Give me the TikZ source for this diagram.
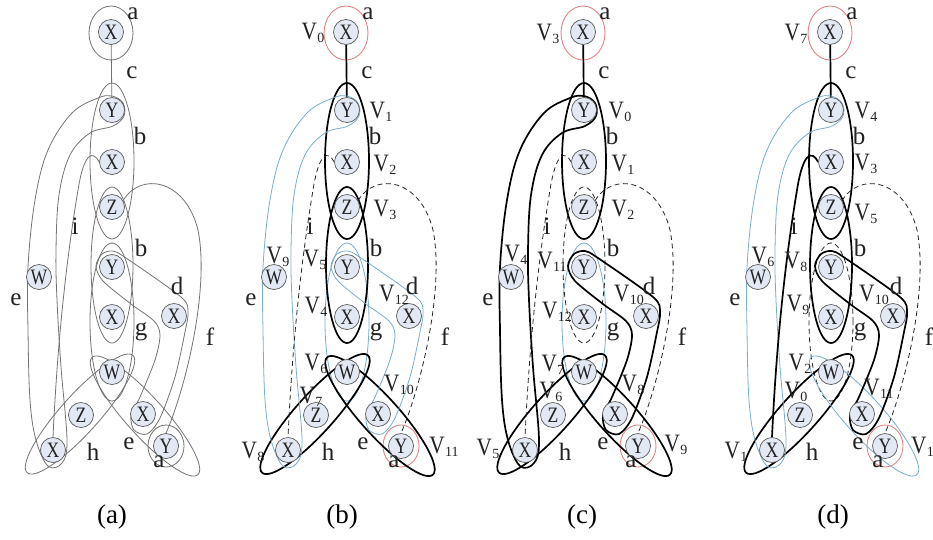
\documentclass[tikz,border=0pt]{standalone}
\usepackage{graphicx}
\usepackage{fontspec}
\setmainfont{Liberation Serif}
\usetikzlibrary{shapes.geometric}
\pgfdeclarelayer{bg}
\pgfsetlayers{bg,main}
\definecolor{gline}{HTML}{737373}
\definecolor{bline}{HTML}{78ADCB}
\definecolor{rline}{HTML}{E08585}
\definecolor{nfill}{HTML}{E3E9F4}
\definecolor{txt}{HTML}{222222}
\newcommand\nl[1]{\scalebox{0.8}[1]{#1}}
\newcommand\vl[1]{\scalebox{0.85}[1]{V}\kern0.6pt\raisebox{-2.5pt}{\fontsize{14}{14}\selectfont #1}}
\tikzset{
  vtx/.style={circle, draw=black!65, line width=0.7pt, fill=nfill, minimum size=25pt, inner sep=0pt, font=\fontsize{22}{22}\selectfont, text=txt},
  gr/.style={draw=gline, line width=0.8pt},
  tk/.style={draw=black, line width=1.7pt},
  bl/.style={draw=bline, line width=0.8pt},
  rd/.style={draw=rline, line width=0.9pt},
  dsh/.style={draw=black!85, line width=0.8pt, dash pattern=on 5pt off 3.5pt},
  lab/.style={font=\fontsize{25}{25}\selectfont, text=txt, inner sep=0pt},
  captxt/.style={font=\fontsize{27}{27}\selectfont, text=black, inner sep=0pt},
  cast/.style={gr}, yrst/.style={gr}, cst/.style={gr}, E1st/.style={gr}, E2st/.style={gr},
  S5st/.style={gr}, hst/.style={gr}, eest/.style={gr}, loopst/.style={gr}, boomst/.style={gr},
  ist/.style={gr}, fst/.style={gr}
}
\newcommand\hgraph[2]{%
 \node[vtx] (#1xt) at (111,32) {\nl{X}};
 \node[vtx] (#1y1) at (112,110) {\nl{Y}};
 \node[vtx] (#1x2) at (112,162) {\nl{X}};
 \node[vtx] (#1z1) at (112,207) {\nl{Z}};
 \node[vtx] (#1y2) at (112,267) {\nl{Y}};
 \node[vtx] (#1x3) at (112,317) {\nl{X}};
 \node[vtx] (#1w1) at (112,372) {\nl{W}};
 \node[vtx] (#1wl) at (39,277) {\nl{W}};
 \node[vtx] (#1xd) at (174,316) {\nl{X}};
 \node[vtx] (#1zb) at (81,415) {\nl{Z}};
 \node[vtx] (#1xb) at (53,450) {\nl{X}};
 \node[vtx] (#1xr) at (143,414) {\nl{X}};
 \node[vtx] (#1yr) at (166,446) {\nl{Y}};
 \begin{pgfonlayer}{bg}
  \draw[cast] (111,33) ellipse [x radius=22pt, y radius=27pt];
  \draw[yrst] (166,446) ellipse [x radius=18pt, y radius=21pt];
  \draw[cst] (#1xt) -- (#1y1);
  \draw[S5st] (112,322) ellipse [x radius=22pt, y radius=79pt];
  \draw[E1st] (112,161) ellipse [x radius=22pt, y radius=78pt];
  \draw[E2st] (112,265) ellipse [x radius=21pt, y radius=78pt];
  \draw[hst, shift={(80,414)}, rotate=48] (0,0) ellipse [x radius=79pt, y radius=19pt];
  \draw[eest, shift={(145,416)}, rotate=-48] (0,0) ellipse [x radius=79pt, y radius=19pt];
  \draw[loopst] plot[smooth cycle, tension=0.6] coordinates {(123,103) (112,96) (98,98) (72,113) (48,150) (35,200) (28,267) (28,330) (30,400) (36,440) (48,466) (62,463) (67,440) (61,367) (57,300) (56,250) (59,195) (70,155) (90,133) (113,126) (124,116)};
  \draw[boomst] plot[smooth cycle, tension=0.5] coordinates {(96,266) (102,254) (113,251) (126,258) (181,297) (188,312) (185,332) (175,377) (160,418) (147,434) (134,430) (131,415) (140,397) (155,360) (160,335) (154,321) (131,304) (103,281)};
  \draw[ist] (#1x2.west) .. controls (93,150) and (84,152) .. (78,190) .. controls (68,250) and (58,330) .. (#1xb.north);
  \draw[fst] (#1z1.30) .. controls (140,172) and (185,178) .. (198,230) .. controls (210,290) and (185,390) .. (#1yr.north);
 \end{pgfonlayer}
 \node[lab] (#1la) at (133,14) {a};
 \node[lab] (#1lc) at (132,73) {c};
 \node[lab] (#1lb) at (140,136) {b};
 \node[lab] (#1li) at (75,226) {i};
 \node[lab] (#1lbb) at (141,248) {b};
 \node[lab] (#1le) at (16,300) {e};
 \node[lab] (#1ld) at (177,286) {d};
 \node[lab] (#1lg) at (141,332) {g};
 \node[lab] (#1lf) at (210,337) {f};
 \node[lab] (#1lh) at (93,452) {h};
 \node[lab] (#1lee) at (#2,444) {e};
 \node[lab] (#1laa) at (159,462) {a};
}
\begin{document}
\begin{tikzpicture}[x=1pt,y=-1pt]
\useasboundingbox (0,0) rectangle (933,539);
% panel a
\begin{scope}
 \hgraph{a}{129}
\end{scope}
% panel b
\begin{scope}[xshift=235pt, cast/.style={rd}, yrst/.style={rd}, cst/.style={tk}, E1st/.style={tk}, E2st/.style={tk},
  S5st/.style={bl}, hst/.style={tk}, eest/.style={tk}, loopst/.style={bl}, boomst/.style={bl}, ist/.style={dsh}, fst/.style={dsh}]
 \hgraph{b}{128}
 \node[lab] (bv0) at (78,33) {\vl{0}};
 \node[lab] (bv1) at (146,112) {\vl{1}};
 \node[lab] (bv2) at (150,165) {\vl{2}};
 \node[lab] (bv3) at (150,210) {\vl{3}};
 \node[lab] (bv9) at (43,257) {\vl{9}};
 \node[lab] (bv5) at (80,260) {\vl{5}};
 \node[lab] (bv4) at (81,307) {\vl{4}};
 \node[lab] (bv12) at (159,295) {\vl{12}};
 \node[lab] (bv6) at (81,364) {\vl{6}};
 \node[lab] (bv7) at (76,397) {\vl{7}};
 \node[lab] (bv10) at (164,385) {\vl{10}};
 \node[lab] (bv8) at (18,452) {\vl{8}};
 \node[lab] (bv11) at (209,447) {\vl{11}};
\end{scope}
% panel c
\begin{scope}[xshift=472pt, cast/.style={rd}, yrst/.style={rd}, cst/.style={tk}, E1st/.style={tk}, E2st/.style={dsh},
  S5st/.style={bl}, hst/.style={tk}, eest/.style={tk}, loopst/.style={tk}, boomst/.style={tk}, ist/.style={dsh}, fst/.style={dsh}]
 \hgraph{c}{131}
 \node[lab] (cv3) at (76,34) {\vl{3}};
 \node[lab] (cv0) at (148,112) {\vl{0}};
 \node[lab] (cv1) at (151,165) {\vl{1}};
 \node[lab] (cv2) at (151,210) {\vl{2}};
 \node[lab] (cv4) at (44,255) {\vl{4}};
 \node[lab] (cv11) at (80,262) {\vl{11}};
 \node[lab] (cv12) at (85,312) {\vl{12}};
 \node[lab] (cv10) at (157,295) {\vl{10}};
 \node[lab] (cv7) at (81,365) {\vl{7}};
 \node[lab] (cv6) at (79,392) {\vl{6}};
 \node[lab] (cv8) at (161,385) {\vl{8}};
 \node[lab] (cv5) at (16,449) {\vl{5}};
 \node[lab] (cv9) at (204,445) {\vl{9}};
\end{scope}
% panel d
\begin{scope}[xshift=719pt, cast/.style={rd}, yrst/.style={rd}, cst/.style={tk}, E1st/.style={tk}, E2st/.style={tk},
  S5st/.style={dsh}, hst/.style={tk}, eest/.style={bl}, loopst/.style={bl}, boomst/.style={tk}, ist/.style={tk}, fst/.style={dsh}]
 \hgraph{d}{139}
 \node[lab] (dv7) at (77,34) {\vl{7}};
 \node[lab] (dv4) at (147,112) {\vl{4}};
 \node[lab] (dv3) at (147,164) {\vl{3}};
 \node[lab] (dv5) at (147,214) {\vl{5}};
 \node[lab] (dv6) at (44,257) {\vl{6}};
 \node[lab] (dv8) at (77,262) {\vl{8}};
 \node[lab] (dv9) at (79,305) {\vl{9}};
 \node[lab] (dv10) at (155,295) {\vl{10}};
 \node[lab] (dv2) at (81,364) {\vl{2}};
 \node[lab] (dv0) at (77,392) {\vl{0}};
 \node[lab] (dv11) at (160,389) {\vl{11}};
 \node[lab] (dv1) at (17,452) {\vl{1}};
 \node[lab] (dv12) at (207,447) {\vl{12}};
\end{scope}
\node[captxt] (capa) at (112,517) {(a)};
\node[captxt] (capb) at (342,517) {(b)};
\node[captxt] (capc) at (582,517) {(c)};
\node[captxt] (capd) at (833,517) {(d)};
\end{tikzpicture}
\end{document}
